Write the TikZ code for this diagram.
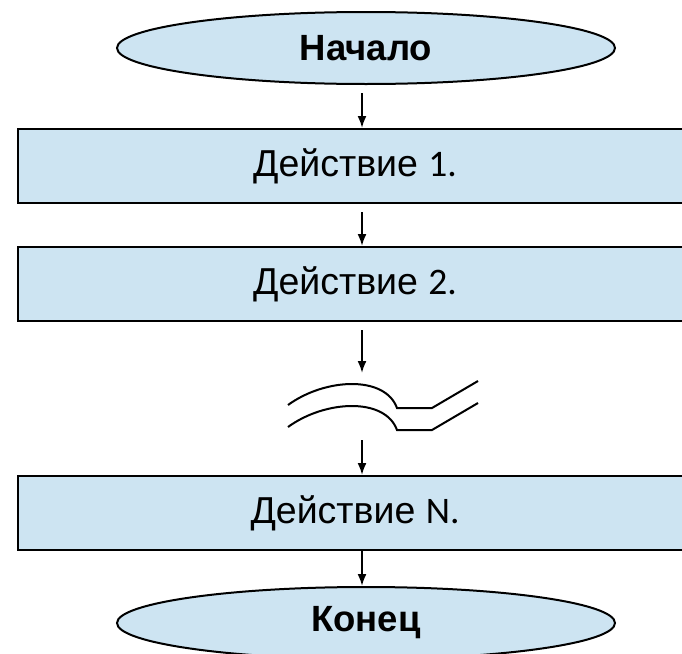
\documentclass[tikz,border=0pt]{standalone}
\usepackage{fontspec}
\setmainfont{Liberation Sans}
\newfontfamily\numfont{Carlito}
\usetikzlibrary{shapes.geometric,arrows.meta}
\definecolor{boxblue}{RGB}{205,228,242}
\tikzset{
  terminal/.style={ellipse,draw,line width=2pt,fill=boxblue,minimum width=498pt,minimum height=72pt,inner sep=0pt,font=\fontsize{36.5}{42}\selectfont\bfseries},
  action/.style={rectangle,draw,line width=2pt,fill=boxblue,minimum width=674pt,minimum height=74pt,inner sep=0pt,font=\fontsize{37.5}{44}\selectfont},
  flow/.style={-{Latex[length=12pt,width=9pt]},line width=2pt,shorten <=8pt},
  breakline/.style={line width=2pt}
}
\begin{document}
\begin{tikzpicture}[x=1pt,y=-1pt]
\useasboundingbox (0,0) rectangle (682,653);
\clip (0,0) rectangle (682,653);
\coordinate (axis) at (362,0);
% blocks
\node[terminal] (start) at (366,48) {Начало};
\node[action] (act1) at (355,166) {Действие {\numfont 1.}};
\node[action] (act2) at (355,284) {Действие {\numfont 2.}};
\node[action] (actn) at (355,513) {Действие {\numfont N.}};
\node[terminal] (stop) at (366,623) {Конец};
\coordinate (gapin) at (362,373);
\coordinate (gapout) at (362,440);
% break mark
\draw[breakline] (288,405) .. controls (325,378) and (385,375) .. (397,408) -- (432,408) -- (478,381);
\draw[breakline,yshift=-22pt] (288,405) .. controls (325,378) and (385,375) .. (397,408) -- (432,408) -- (478,381);
% arrows
\draw[flow] (start.south -| axis) -- (act1.north -| axis);
\draw[flow] (act1.south -| axis) -- (act2.north -| axis);
\draw[flow] (act2.south -| axis) -- (gapin);
\draw[flow,shorten <=0pt] (gapout) -- (actn.north -| axis);
\draw[flow,shorten <=0pt] (actn.south -| axis) -- (stop.north -| axis);
\end{tikzpicture}
\end{document}
